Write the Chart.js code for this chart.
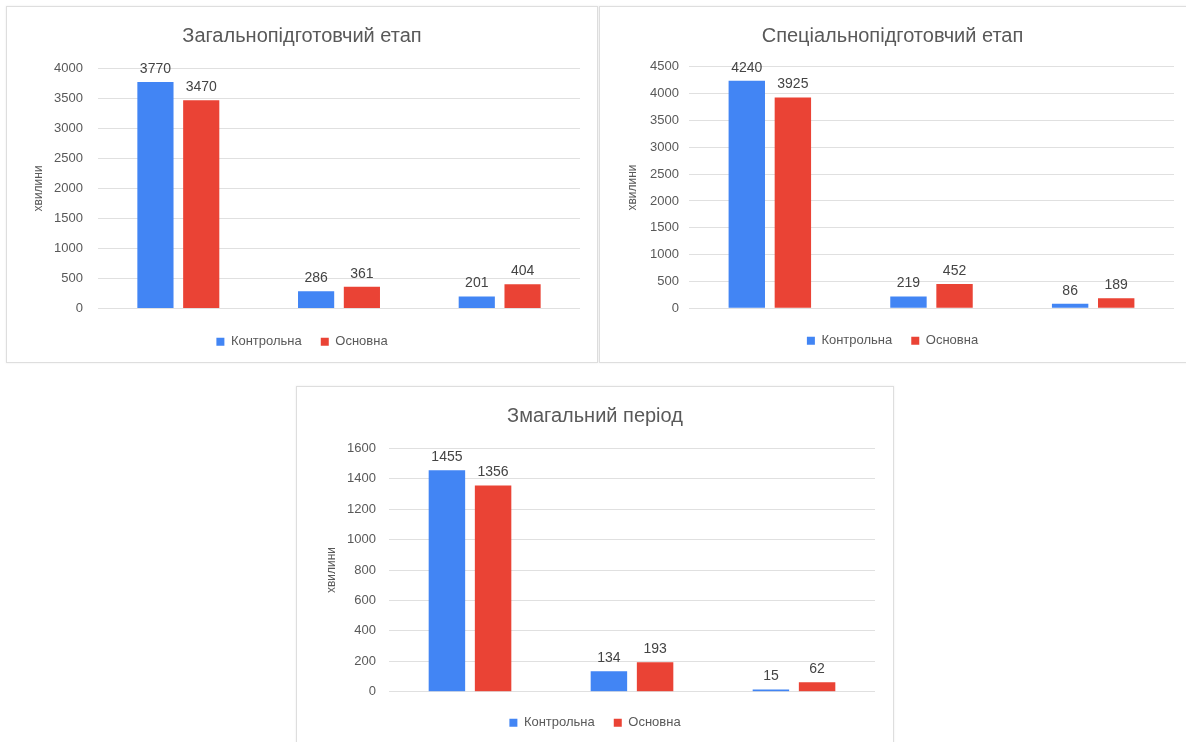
<!DOCTYPE html>
<html>
<head>
<meta charset="utf-8">
<script src="https://cdn.jsdelivr.net/npm/chart.js@4.4.1/dist/chart.umd.min.js"></script>
<style>
  html, body { margin: 0; padding: 0; background: #ffffff; }
  body { width: 1186px; height: 742px; position: relative; overflow: hidden; }
  .panel { position: absolute; box-sizing: border-box; border: 1px solid #dedede; box-shadow: 0 0 2px rgba(0,0,0,0.08); background: #fff; }
  canvas { position: absolute; }
</style>
</head>
<body>
<div class="panel" style="left:6px;top:6px;width:592px;height:357px;"></div>
<div class="panel" style="left:599px;top:6px;width:590px;height:357px;"></div>
<div class="panel" style="left:296px;top:386px;width:598px;height:360px;"></div>
<canvas id="c1" width="590" height="355" style="left:7px;top:7px;"></canvas>
<canvas id="c2" width="585" height="355" style="left:600px;top:7px;"></canvas>
<canvas id="c3" width="596" height="355" style="left:297px;top:387px;"></canvas>
<script>
// ---- data ----
const categories = ['Категорія 1', 'Категорія 2', 'Категорія 3'];
const seriesNames = ['Контрольна', 'Основна'];
const seriesColors = ['#4285F4', '#EA4335'];
const yAxisTitle = 'хвилини';

const title1 = 'Загальнопідготовчий етап';
const control1 = [3770, 286, 201];
const main1 = [3470, 361, 404];
const yMax1 = 4000, yStep1 = 500;

const title2 = 'Спеціальнопідготовчий етап';
const control2 = [4240, 219, 86];
const main2 = [3925, 452, 189];
const yMax2 = 4500, yStep2 = 500;

const title3 = 'Змагальний період';
const control3 = [1455, 134, 15];
const main3 = [1356, 193, 62];
const yMax3 = 1600, yStep3 = 200;

// ---- helpers ----
const FONT = "'Liberation Sans', Arial, sans-serif";
const TEXT = '#595959';

const valueLabels = {
  id: 'valueLabels',
  afterDatasetsDraw(chart) {
    const ctx = chart.ctx;
    ctx.save();
    ctx.font = '14px ' + FONT;
    ctx.fillStyle = '#444444';
    ctx.textAlign = 'center';
    ctx.textBaseline = 'middle';
    chart.data.datasets.forEach((ds, i) => {
      const meta = chart.getDatasetMeta(i);
      meta.data.forEach((el, j) => {
        ctx.fillText(String(ds.data[j]), el.x, el.y - 13);
      });
    });
    ctx.restore();
  }
};

function makeChart(id, titleText, control, main, yMax, yStep, g) {
  const ctxEl = document.getElementById(id);
  const titleLH = 24; // 20px * 1.2
  new Chart(ctxEl, {
    type: 'bar',
    data: {
      labels: categories,
      datasets: [
        { label: seriesNames[0], data: control, backgroundColor: seriesColors[0], borderWidth: 0 },
        { label: seriesNames[1], data: main, backgroundColor: seriesColors[1], borderWidth: 0 }
      ]
    },
    options: {
      responsive: false,
      animation: false,
      events: [],
      categoryPercentage: 0.57,
      barPercentage: 0.79,
      layout: { padding: { left: 0, right: 0, top: 0, bottom: g.padBottom } },
      plugins: {
        title: {
          display: true, text: titleText, color: TEXT,
          font: { family: FONT, size: 20, weight: 'normal', lineHeight: 1.2 },
          padding: { top: g.titleY - titleLH / 2, bottom: g.top - g.titleY - titleLH / 2 }
        },
        legend: {
          display: true, position: 'bottom',
          labels: { color: TEXT, font: { family: FONT, size: 13 }, boxWidth: 8, boxHeight: 8, padding: 19 }
        },
        tooltip: { enabled: false }
      },
      scales: {
        x: {
          display: true,
          grid: { display: false },
          border: { display: false },
          ticks: { display: false },
          afterFit(s) { s.height = g.xH; }
        },
        y: {
          position: 'left',
          min: 0, max: yMax,
          ticks: { stepSize: yStep, color: TEXT, font: { family: FONT, size: 13 }, padding: g.tickPad,
                   callback: (v) => String(v) },
          grid: { color: '#e0e0e0', drawTicks: false, lineWidth: 1 },
          border: { display: false },
          title: { display: true, text: yAxisTitle, color: TEXT, font: { family: FONT, size: 12, lineHeight: 1.2 }, padding: { top: g.yTitleX - 7.2, bottom: 0 } },
          afterFit(s) { s.width = g.left; }
        },
        yR: {
          position: 'right',
          display: true,
          grid: { display: false },
          border: { display: false },
          ticks: { display: false },
          afterFit(s) { s.width = g.rightPad; }
        }
      }
    },
    plugins: [valueLabels]
  });
}

makeChart('c1', title1, control1, main1, yMax1, yStep1,
  { left: 91, rightPad: 17, top: 61.3, titleY: 29.5, xH: 7.7, padBottom: 3.8, tickPad: 15, yTitleX: 31.3 });
makeChart('c2', title2, control2, main2, yMax2, yStep2,
  { left: 89, rightPad: 11, top: 59.7, titleY: 29, xH: 6.9, padBottom: 4.8, tickPad: 10, yTitleX: 32.7 });
makeChart('c3', title3, control3, main3, yMax3, yStep3,
  { left: 92, rightPad: 18, top: 61.3, titleY: 29, xH: 5.5, padBottom: 2.8, tickPad: 13, yTitleX: 34.4 });
</script>
</body>
</html>
